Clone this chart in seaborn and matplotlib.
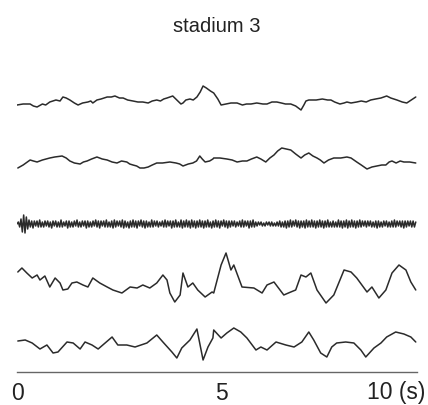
import matplotlib
matplotlib.use("Agg")
import matplotlib.pyplot as plt
import seaborn as sns
import pandas as pd
import numpy as np

# EEG-like traces, values are deflections (arbitrary units, up = positive)
t1 = [0, 0.15, 0.32, 0.40, 0.49, 0.62, 0.70, 0.80, 0.95, 1.05, 1.12, 1.20, 1.29, 1.40, 1.49,
      1.60, 1.73, 1.80, 1.85, 1.95, 2.05, 2.20, 2.30, 2.39, 2.50, 2.59, 2.70, 2.83, 2.95, 3.07,
      3.20, 3.30, 3.41, 3.50, 3.58, 3.66, 3.73, 3.80, 3.90, 4.00, 4.05, 4.12, 4.22, 4.30, 4.39,
      4.47, 4.54, 4.62, 4.72, 4.80, 4.90, 4.98, 5.10, 5.22, 5.37, 5.50, 5.60, 5.71, 5.85, 6.00,
      6.10, 6.22, 6.34, 6.45, 6.55, 6.68, 6.80, 6.93, 7.00, 7.05, 7.12, 7.30, 7.45, 7.58, 7.66,
      7.75, 7.88, 7.98, 8.05, 8.15, 8.29, 8.40, 8.52, 8.63, 8.75, 8.88, 9.02, 9.12, 9.27, 9.40,
      9.51, 9.62, 9.73]
v1 = [-4, -3, -3, -5, -6, -3, -4, -1, 1, 0, 4, 3, 1, -2, -4,
      -2, -1, 0, -2, 1, 2, 4, 4, 5, 3, 3, 1, 0, -1, -1,
      -2, 0, 1, 0, 2, 3, 4, 5, 1, -3, -2, 1, 2, 1, 4,
      9, 15, 13, 10, 8, 2, -4, -3, -2, -2, -4, -3, -3, -2, -3,
      -3, -1, -1, -2, -3, -3, -5, -9, -4, 0, 1, 1, 2, 1, 1,
      -1, -3, -2, -1, -2, -1, 0, -1, 1, 2, 3, 5, 3, 1, -1,
      -2, 1, 4]

t2 = [0.02, 0.15, 0.32, 0.40, 0.49, 0.62, 0.80, 0.92, 1.10, 1.20, 1.29, 1.40, 1.54, 1.62, 1.71,
      1.82, 1.95, 2.08, 2.20, 2.32, 2.44, 2.55, 2.68, 2.75, 2.83, 2.92, 3.00, 3.10, 3.20, 3.30,
      3.41, 3.55, 3.73, 3.88, 3.97, 4.05, 4.18, 4.29, 4.38, 4.46, 4.52, 4.59, 4.70, 4.78, 4.80,
      4.95, 5.12, 5.25, 5.37, 5.50, 5.61, 5.72, 5.85, 5.95, 6.07, 6.17, 6.27, 6.36, 6.46, 6.57,
      6.68, 6.80, 6.93, 7.02, 7.12, 7.22, 7.32, 7.40, 7.49, 7.60, 7.73, 7.90, 8.05, 8.15, 8.29,
      8.40, 8.54, 8.66, 8.78, 8.90, 9.00, 9.08, 9.15, 9.25, 9.35, 9.44, 9.58, 9.73]
v2 = [-8, -5, 0, -1, -2, 0, 2, 3, 4, 2, -1, -3, -4, -2, -1,
      1, 3, 1, 0, -2, -3, -1, -2, -4, -5, -6, -8, -8, -7, -5,
      -3, -3, -2, -3, -4, -6, -4, -3, -1, 4, 1, -2, -1, 1, 2,
      2, 1, 0, -2, -1, -1, 1, 3, 1, -2, 2, 5, 9, 12, 11,
      10, 6, 2, 5, 7, 4, 2, 0, -3, 0, 2, 2, 3, 2, -2,
      -5, -9, -7, -6, -5, -5, -2, -1, -3, -1, -2, -2, -3]

# fast muscle-like channel
v3 = [0, 2, -3, 5, -8, 9, -9, 7, -5, 4, -3, 3, -4, 3, -2, 3, -3, 4, -3, 2,
      -3, 3, -2, 3, -3, 2, -4, 3, -2, 3, -3, 2, -3, 4, -3, 2, -2, 3, -4, 3,
      -3, 2, -3, 3, -2, 4, -3, 2, -3, 3, -2, 3, -4, 3, -3, 2, -3, 3, -2, 4,
      -3, 3, -4, 3, -2, 3, -3, 4, -3, 2, -3, 3, -4, 4, -3, 3, -2, 3, -3, 4,
      -4, 3, -3, 2, -4, 3, -3, 4, -3, 3, -4, 3, -2, 4, -3, 3, -4, 3, -3, 2,
      -3, 4, -3, 3, -2, 3, -3, 2, -2, 3, -3, 4, -3, 3, -2, 3, -4, 3, -3, 4,
      -3, 2, -3, 4, -4, 3, -3, 4, -3, 3, -4, 4, -3, 3, -4, 3, -3, 4, -3, 3,
      -4, 3, -3, 4, -3, 2, -4, 3, -3, 4, -3, 3, -4, 3, -2, 4, -3, 3, -4, 3,
      -3, 3, -2, 3, -3, 2, -2, 3, -3, 4, -3, 3, -2, 3, -4, 3, -3, 4, -3, 2,
      -2, 2, -1, 2, -2, 1, -2, 2, -1, 2, -2, 2, -2, 1, -2, 2, -2, 3, -3, 2,
      -3, 3, -4, 3, -3, 4, -3, 3, -2, 4, -3, 3, -4, 3, -3, 3, -4, 4, -3, 3,
      -3, 4, -3, 3, -4, 3, -3, 4, -3, 3, -4, 3, -3, 4, -3, 2, -3, 3, -3, 2,
      -3, 4, -3, 3, -4, 3, -3, 4, -4, 3, -3, 4, -3, 3, -4, 3, -3, 4, -3, 3,
      -2, 3, -3, 3, -2, 3, -3, 2, -3, 3, -4, 3, -3, 2, -3, 3, -2, 3, -3, 2,
      -3, 3, -3, 4, -3, 3, -2, 3, -3, 3, -4, 3, -3, 3, -2, 3, -3, 3, -3, 2]

t4 = [0.02, 0.12, 0.24, 0.37, 0.49, 0.56, 0.68, 0.80, 0.93, 1.05, 1.12, 1.24, 1.34, 1.46, 1.61,
      1.73, 1.85, 2.02, 2.20, 2.34, 2.56, 2.76, 2.93, 3.07, 3.24, 3.41, 3.56, 3.66, 3.73, 3.85,
      3.98, 4.05, 4.17, 4.29, 4.41, 4.59, 4.76, 4.80, 4.98, 5.10, 5.22, 5.29, 5.49, 5.78, 5.98,
      6.10, 6.27, 6.51, 6.68, 6.80, 6.93, 7.05, 7.17, 7.32, 7.54, 7.73, 7.98, 8.15, 8.29, 8.54,
      8.66, 8.83, 9.00, 9.15, 9.32, 9.49, 9.61, 9.73]
v4 = [13, 17, 12, 7, 10, 5, 9, -2, 7, 2, -5, -4, 2, 3, 0,
      -2, 7, 2, -2, -5, -8, -2, -3, 0, -3, 2, 10, 5, -8, -17,
      -10, 12, -2, 2, -5, -12, -7, -8, 20, 32, 15, 20, -2, -3, -8,
      0, 3, -10, -7, -5, 10, 8, 12, -5, -18, -10, 15, 13, 7, -7,
      -2, -13, -5, 12, 20, 15, 3, -5]

t5 = [0.02, 0.20, 0.37, 0.56, 0.73, 0.88, 1.00, 1.22, 1.37, 1.54, 1.66, 1.83, 1.98, 2.15, 2.32,
      2.46, 2.68, 2.88, 3.17, 3.41, 3.56, 3.78, 3.90, 4.02, 4.22, 4.39, 4.54, 4.66, 4.78, 4.80,
      4.98, 5.12, 5.29, 5.46, 5.61, 5.83, 5.95, 6.10, 6.32, 6.56, 6.76, 6.95, 7.12, 7.24, 7.41,
      7.56, 7.68, 7.80, 8.02, 8.22, 8.39, 8.51, 8.71, 8.88, 9.02, 9.24, 9.44, 9.61, 9.73]
v5 = [2, 3, 0, -6, -2, -10, -9, 1, 0, -6, 1, -2, -6, 0, 6,
      -2, -2, -4, 0, 8, 1, -9, -15, -5, 3, 14, -17, -4, 5, 13,
      5, 10, 15, 11, 5, -7, -4, -7, 1, -2, -4, 1, 11, 3, -10,
      -14, -4, 0, 1, 0, -7, -14, -5, 0, 6, 11, 9, 6, 1]

T_END = 9.76
t3 = np.linspace(0, 9.73, len(v3))

# vertical stacking of the channels
offsets = [-101, -160, -224, -285, -343]

frames = []
for i, (t, v) in enumerate([(t1, v1), (t2, v2), (t3, v3), (t4, v4), (t5, v5)]):
    frames.append(pd.DataFrame({
        "time": t,
        "value": np.asarray(v, dtype=float) + offsets[i],
        "channel": i,
    }))
df = pd.concat(frames, ignore_index=True)

sns.set_style("white")
plt.rcParams['font.family'] = ['Liberation Sans', 'DejaVu Sans']

fig = plt.figure(figsize=(4.28, 4.05), dpi=100)
ax = fig.add_axes([17 / 428, 1 - 372 / 405, 400 / 428, (372 - 60) / 405])

sns.lineplot(data=df, x="time", y="value", units="channel", estimator=None,
             color="#2b2b2b", linewidth=1.1, ax=ax, sort=False)

ax.set_xlim(0, T_END)
ax.set_ylim(-372, -60)
ax.set_xlabel("")
ax.set_ylabel("")
ax.set_yticks([])
for s in ["top", "right", "left"]:
    ax.spines[s].set_visible(False)
ax.spines["bottom"].set_color("#666666")
ax.spines["bottom"].set_linewidth(1.0)
ax.set_xticks([0, 2.5, 5, 7.5, T_END])
ax.set_xticklabels(["0", "", "5", "", ""])
ax.tick_params(axis="x", direction="inout", length=7, width=1.0, color="#666666",
               labelsize=16.5, pad=4, labelcolor="#222222")

fig.text(425 / 428, 1 - 393 / 405, "10 (s)", ha="right", va="center", fontsize=16.5, color="#222222")
fig.text(217 / 428, 1 - 26 / 405, "stadium 3", ha="center", va="center", fontsize=14.5, color="#222222")

fig.savefig("out.png", dpi=100)
